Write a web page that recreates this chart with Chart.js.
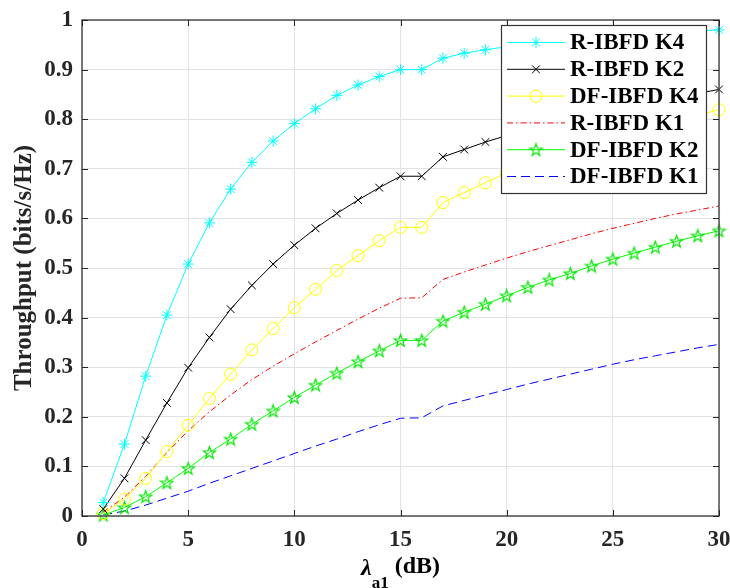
<!DOCTYPE html>
<html>
<head>
<meta charset="utf-8">
<script src="https://cdn.jsdelivr.net/npm/chart.js@4.4.0/dist/chart.umd.min.js"></script>
<style>
  html, body { margin: 0; padding: 0; background: #fff; }
  #wrap { width: 730px; height: 588px; }
</style>
</head>
<body>
<div id="wrap"><canvas id="throughputChart" width="730" height="588"></canvas></div>
<script>
// lambda_a1 in dB
const snr = [1, 2, 3, 4, 5, 6, 7, 8, 9, 10, 11, 12, 13, 14, 15,
             16, 17, 18, 19, 20, 21, 22, 23, 24, 25, 26, 27, 28, 29, 30];

const rIbfdK4 = [0.027, 0.145, 0.282, 0.405, 0.508, 0.591, 0.659, 0.713, 0.756, 0.791,
                 0.821, 0.848, 0.869, 0.886, 0.900, 0.900, 0.923, 0.933, 0.940, 0.946,
                 0.951, 0.956, 0.960, 0.964, 0.967, 0.970, 0.973, 0.975, 0.978, 0.980];
const rIbfdK2 = [0.014, 0.076, 0.153, 0.228, 0.299, 0.360, 0.417, 0.465, 0.508, 0.546,
                 0.580, 0.610, 0.637, 0.662, 0.685, 0.685, 0.724, 0.739, 0.754, 0.767,
                 0.778, 0.789, 0.799, 0.808, 0.817, 0.826, 0.835, 0.843, 0.852, 0.860];
const dfIbfdK4 = [0.005, 0.034, 0.076, 0.130, 0.183, 0.237, 0.286, 0.335, 0.378, 0.420,
                  0.457, 0.495, 0.525, 0.555, 0.582, 0.582, 0.632, 0.652, 0.672, 0.692,
                  0.708, 0.723, 0.737, 0.750, 0.762, 0.774, 0.786, 0.797, 0.808, 0.819];
const rIbfdK1 = [0.008, 0.038, 0.080, 0.128, 0.172, 0.210, 0.244, 0.275, 0.302, 0.327,
                 0.351, 0.374, 0.397, 0.419, 0.439, 0.440, 0.477, 0.492, 0.506, 0.520,
                 0.533, 0.545, 0.557, 0.569, 0.580, 0.590, 0.600, 0.609, 0.617, 0.625];
const dfIbfdK2 = [0.002, 0.017, 0.039, 0.067, 0.096, 0.128, 0.155, 0.185, 0.212, 0.239,
                  0.264, 0.288, 0.311, 0.333, 0.354, 0.354, 0.393, 0.411, 0.427, 0.444,
                  0.461, 0.476, 0.489, 0.504, 0.518, 0.530, 0.542, 0.554, 0.565, 0.575];
const dfIbfdK1 = [0.002, 0.010, 0.022, 0.036, 0.050, 0.066, 0.081, 0.096, 0.111, 0.126,
                  0.141, 0.155, 0.170, 0.184, 0.197, 0.198, 0.222, 0.233, 0.244, 0.255,
                  0.266, 0.276, 0.286, 0.296, 0.306, 0.315, 0.323, 0.331, 0.339, 0.346];

const xTicks = [0, 5, 10, 15, 20, 25, 30];
const yTicks = [0, 0.1, 0.2, 0.3, 0.4, 0.5, 0.6, 0.7, 0.8, 0.9, 1];
const yTickLabels = ['0', '0.1', '0.2', '0.3', '0.4', '0.5', '0.6', '0.7', '0.8', '0.9', '1'];

const FONT = '"Liberation Serif", "Times New Roman", serif';

// hollow pentagram marker (matlab 'p')
function pentagram(size, color) {
    const c = document.createElement('canvas');
    c.width = size; c.height = size;
    const g = c.getContext('2d');
    const cx = size / 2, cy = size / 2 + 0.5, R = size / 2 - 1, r = R * 0.4;
    g.beginPath();
    for (let i = 0; i < 10; i++) {
        const rad = i % 2 ? r : R;
        const a = -Math.PI / 2 + i * Math.PI / 5;
        g.lineTo(cx + rad * Math.cos(a), cy + rad * Math.sin(a));
    }
    g.closePath();
    g.strokeStyle = color;
    g.lineWidth = 1.2;
    g.stroke();
    return c;
}

function series(label, values, color, style, radius, dash) {
    return {
        label: label,
        data: values.map((v, i) => ({ x: snr[i], y: v })),
        borderColor: color,
        backgroundColor: 'rgba(0,0,0,0)',
        pointBorderColor: color,
        pointBackgroundColor: 'rgba(0,0,0,0)',
        borderWidth: 1,
        pointBorderWidth: 1,
        pointStyle: style,
        pointRadius: style ? radius : 0,
        borderDash: dash || [],
        tension: 0,
        clip: false
    };
}

const datasets = [
    series('R-IBFD K4', rIbfdK4, '#00ffff', 'star', 5.5),
    series('R-IBFD K2', rIbfdK2, '#000000', 'crossRot', 5.5),
    series('DF-IBFD K4', dfIbfdK4, '#ffff00', 'circle', 6),
    series('R-IBFD K1', rIbfdK1, '#ff0000', false, 0, [6, 3, 1.5, 3]),
    series('DF-IBFD K2', dfIbfdK2, '#00ff00', pentagram(15, '#00e600'), 7),
    series('DF-IBFD K1', dfIbfdK1, '#0000ff', false, 0, [9, 5])
];

// axes box with inward ticks on all sides
const frame = {
    id: 'frame',
    afterDatasetsDraw(chart) {
        const { ctx, chartArea: a, scales } = chart;
        ctx.save();
        ctx.strokeStyle = '#4d4d4d';
        ctx.lineWidth = 1.5;
        ctx.strokeRect(a.left, a.top, a.right - a.left, a.bottom - a.top);
        ctx.lineWidth = 1;
        ctx.strokeStyle = '#262626';
        ctx.beginPath();
        xTicks.forEach(v => {
            const px = Math.round(scales.x.getPixelForValue(v)) + 0.5;
            ctx.moveTo(px, a.bottom); ctx.lineTo(px, a.bottom - 6);
            ctx.moveTo(px, a.top); ctx.lineTo(px, a.top + 6);
        });
        yTicks.forEach(v => {
            const py = Math.round(scales.y.getPixelForValue(v)) + 0.5;
            ctx.moveTo(a.left, py); ctx.lineTo(a.left + 6, py);
            ctx.moveTo(a.right, py); ctx.lineTo(a.right - 6, py);
        });
        ctx.stroke();
        ctx.restore();
    }
};

// x label with subscript, and the boxed legend
const extras = {
    id: 'extras',
    afterDraw(chart) {
        const { ctx, chartArea: a } = chart;
        ctx.save();
        ctx.fillStyle = '#000';
        ctx.textBaseline = 'alphabetic';
        ctx.textAlign = 'left';

        const f1 = 'italic bold 24px ' + FONT, f2 = 'bold 17px ' + FONT, f3 = 'bold 24px ' + FONT;
        ctx.font = f1; const w1 = ctx.measureText('λ').width;
        ctx.font = f2; const w2 = ctx.measureText('a1').width;
        ctx.font = f3; const w3 = ctx.measureText(' (dB)').width;
        let x = (a.left + a.right) / 2 - (w1 + w2 + w3) / 2;
        ctx.font = f1; ctx.fillText('λ', x, 575); x += w1;
        ctx.font = f2; ctx.fillText('a1', x, 588); x += w2;
        ctx.font = f3; ctx.fillText(' (dB)', x, 573);

        // legend
        const bx = 501, by = 25, bw = 205, bh = 168, row = 26.8;
        ctx.fillStyle = '#fff';
        ctx.fillRect(bx, by, bw, bh);
        ctx.strokeStyle = '#333';
        ctx.lineWidth = 1.2;
        ctx.strokeRect(bx + 0.5, by + 0.5, bw, bh);
        ctx.font = 'bold 23px ' + FONT;
        ctx.textBaseline = 'middle';
        chart.data.datasets.forEach((ds, i) => {
            const cy = by + 17.5 + i * row;
            ctx.save();
            ctx.strokeStyle = ds.borderColor;
            ctx.lineWidth = 1;
            ctx.setLineDash(ds.borderDash);
            ctx.beginPath();
            ctx.moveTo(507, cy); ctx.lineTo(565, cy);
            ctx.stroke();
            ctx.setLineDash([]);
            if (ds.pointStyle) {
                ctx.fillStyle = 'rgba(0,0,0,0)';
                Chart.helpers.drawPoint(ctx, { pointStyle: ds.pointStyle, radius: ds.pointRadius, rotation: 0, borderWidth: 1 }, 536, cy);
            }
            ctx.restore();
            ctx.fillStyle = '#000';
            ctx.fillText(ds.label, 570, cy + 1);
        });
        ctx.restore();
    }
};

new Chart(document.getElementById('throughputChart'), {
    type: 'line',
    data: { datasets: datasets },
    options: {
        responsive: false,
        animation: false,
        devicePixelRatio: 1,
        layout: { padding: { top: 20, right: 0, left: 0, bottom: 0 } },
        plugins: { legend: { display: false }, tooltip: { enabled: false } },
        scales: {
            x: {
                type: 'linear',
                min: 0, max: 30,
                afterBuildTicks: s => { s.ticks = xTicks.map(v => ({ value: v })); },
                afterFit: s => { s.height = 72; s.paddingLeft = 0; s.paddingRight = 11; },
                grid: { color: '#e3e3e3', drawTicks: false },
                border: { display: false },
                ticks: { color: '#262626', padding: 10, font: { family: FONT, size: 23, weight: 'bold' }, maxRotation: 0 }
            },
            y: {
                min: 0, max: 1,
                afterBuildTicks: s => { s.ticks = yTicks.map(v => ({ value: v })); },
                afterFit: s => { s.width = 82; s.paddingTop = 0; s.paddingBottom = 0; },
                grid: { color: '#e3e3e3', drawTicks: false },
                border: { display: false },
                ticks: {
                    color: '#262626', padding: 9,
                    font: { family: FONT, size: 23, weight: 'bold' },
                    callback: (v, i) => yTickLabels[i]
                },
                title: {
                    display: true,
                    text: 'Throughput (bits/s/Hz)',
                    color: '#262626',
                    font: { family: FONT, size: 25, weight: 'bold' },
                    padding: { top: 10, bottom: 0 }
                }
            }
        }
    },
    plugins: [frame, extras]
});
</script>
</body>
</html>
